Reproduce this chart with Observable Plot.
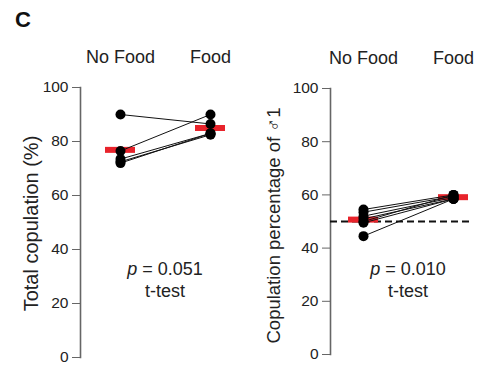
<!DOCTYPE html>
<html>
<head>
<meta charset="utf-8">
<script src="https://cdn.jsdelivr.net/npm/d3@7"></script>
<script src="https://cdn.jsdelivr.net/npm/@observablehq/plot@0.6"></script>
<style>
  body { margin: 0; background: #fff; font-family: "Liberation Sans", Arial, sans-serif; }
  #wrap { position: relative; width: 482px; height: 381px; }
  #plots { display: flex; }
  .lbl { position: absolute; color: #222; font-size: 18px; text-align: center; line-height: 22px; }
  #panel { position: absolute; left: 15px; top: 7px; font-size: 22px; font-weight: bold; color: #111; }
</style>
</head>
<body>
<div id="wrap">
  <div id="plots"></div>
  <div id="panel">C</div>
  <div class="lbl" style="left:105px; top:258px; width:120px;"><i>p</i> = 0.051<br>t-test</div>
  <div class="lbl" style="left:348px; top:258px; width:120px;"><i>p</i> = 0.010<br>t-test</div>
</div>
<script>
const conditions = ["No Food", "Food"];
const yTicks = [0, 20, 40, 60, 80, 100];

// Panel 1: Total copulation (%)
const totalNoFood = [90, 76.5, 73.5, 72.5, 72];
const totalFood   = [86.5, 90, 83, 82.5, 83];

// Panel 2: Copulation percentage of male 1
const male1NoFood = [54.5, 53.5, 52, 51, 50, 49.5, 44.5];
const male1Food   = [60, 59.5, 59, 58.5, 60, 58.5, 58.5];
const chanceLevel = [50];

function rows(a, b) {
  const out = [];
  a.forEach((v, i) => {
    out.push({id: i, condition: conditions[0], value: v});
    out.push({id: i, condition: conditions[1], value: b[i]});
  });
  return out;
}

const red = "#e8232b";
const axisColor = "#666";

function panel(data, opts) {
  const marks = [
    Plot.frame({anchor: "left", stroke: axisColor, strokeWidth: 1.6}),
    Plot.axisY({ticks: yTicks, tickSize: 8, tickPadding: 4, fontSize: 15.5, stroke: axisColor,
      color: "#222", label: null}),
    Plot.text([opts.label], {frameAnchor: "left", textAnchor: "middle", lineAnchor: "middle", rotate: -90,
      dx: -opts.labelOffset, dy: opts.labelDy, fontSize: opts.labelSize, fill: "#222"}),
    Plot.axisX({anchor: "top", tickSize: 0, tickPadding: 25, fontSize: 18, label: null, color: "#222"}),
  ];
  if (opts.rule) marks.push(Plot.ruleY(opts.rule, {stroke: "#111", strokeWidth: 2, strokeDasharray: "7,4"}));
  marks.push(
    Plot.tickY(data, Plot.groupX({y: "mean"}, {x: "condition", y: "value", stroke: red, strokeWidth: 6, insetLeft: 30, insetRight: 30})),
    Plot.line(data, {x: "condition", y: "value", z: "id", stroke: "#111", strokeWidth: 1}),
    Plot.dot(data, {x: "condition", y: "value", r: 5, fill: "#000", stroke: "none"})
  );
  return Plot.plot({
    width: 241, height: 381,
    marginLeft: opts.marginLeft, marginRight: opts.marginRight, marginTop: opts.marginTop, marginBottom: opts.marginBottom,
    style: {fontFamily: "'Liberation Sans', Arial, sans-serif", background: "transparent", overflow: "visible"},
    x: {type: "band", domain: conditions, range: opts.xRange, padding: 0, axis: null},
    y: {domain: [0, 100], axis: null},
    marks
  });
}

const p1 = panel(rows(totalNoFood, totalFood), {
  label: "Total copulation (%)", labelOffset: 49, labelDy: 1, labelSize: 20,
  marginLeft: 80, marginRight: 10, marginTop: 87, marginBottom: 24, xRange: [75, 255]
});
const p2 = panel(rows(male1NoFood, male1Food), {
  label: "Copulation percentage of ♂1", labelOffset: 56, labelDy: 4, labelSize: 18.5, rule: chanceLevel,
  marginLeft: 89, marginRight: 9, marginTop: 88, marginBottom: 27, xRange: [77, 257]
});
document.getElementById("plots").append(p1, p2);
</script>
</body>
</html>
